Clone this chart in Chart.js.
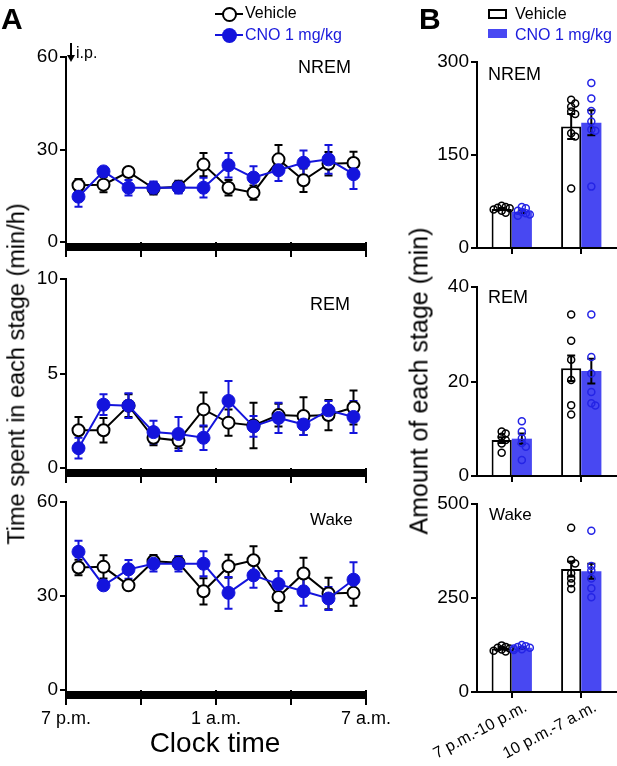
<!DOCTYPE html>
<html>
<head>
<meta charset="utf-8">
<script src="https://cdn.jsdelivr.net/npm/chart.js@4.4.1/dist/chart.umd.min.js"></script>
<style>
body { margin: 0; background: #fff; font-family: "Liberation Sans", Arial, sans-serif; }
#fig { position: relative; width: 617px; height: 766px; overflow: hidden; }
#fig canvas { position: absolute; left: 0; top: 0; }
.t { position: absolute; white-space: nowrap; color: #000; line-height: 1; z-index: 5; }
.blue { color: #1a1adc; }
</style>
</head>
<body>
<div id="fig">
	<canvas id="lineNrem"></canvas>
	<canvas id="lineRem"></canvas>
	<canvas id="lineWake"></canvas>
	<canvas id="barNrem"></canvas>
	<canvas id="barRem"></canvas>
	<canvas id="barWake"></canvas>

	<div class="t" style="left:1px;top:4px;font-size:30px;font-weight:bold;">A</div>
	<div class="t" style="left:419px;top:4px;font-size:30px;font-weight:bold;">B</div>

	<!-- legend A -->
	<div style="position:absolute;left:215px;top:13px;width:28px;height:2px;background:#000;"></div>
	<div style="position:absolute;left:222px;top:7px;width:11px;height:11px;border:2px solid #000;border-radius:50%;background:#fff;"></div>
	<div class="t" style="left:245px;top:5px;font-size:16px;">Vehicle</div>
	<div style="position:absolute;left:215px;top:34px;width:28px;height:2px;background:#1414dc;"></div>
	<div style="position:absolute;left:222px;top:28px;width:15px;height:15px;border-radius:50%;background:#1414dc;"></div>
	<div class="t blue" style="left:245px;top:27px;font-size:16px;">CNO 1 mg/kg</div>

	<!-- legend B -->
	<div style="position:absolute;left:488px;top:9px;width:15px;height:6px;border:2px solid #000;background:#fff;"></div>
	<div class="t" style="left:515px;top:6px;font-size:16px;">Vehicle</div>
	<div style="position:absolute;left:488px;top:29px;width:19px;height:9px;background:#4848f2;"></div>
	<div class="t blue" style="left:515px;top:27px;font-size:16px;">CNO 1 mg/kg</div>

	<!-- injection arrow -->
	<div style="position:absolute;left:70px;top:43px;width:2px;height:13px;background:#000;"></div>
	<div style="position:absolute;left:67px;top:55px;width:0;height:0;border-left:4px solid transparent;border-right:4px solid transparent;border-top:7px solid #000;"></div>
	<div class="t" style="left:76px;top:45px;font-size:16px;">i.p.</div>

	<!-- panel labels -->
	<div class="t" style="left:298px;top:58px;font-size:18px;">NREM</div>
	<div class="t" style="left:310px;top:295px;font-size:18px;">REM</div>
	<div class="t" style="left:310px;top:511px;font-size:17px;">Wake</div>
	<div class="t" style="left:488px;top:65px;font-size:18px;">NREM</div>
	<div class="t" style="left:488px;top:288px;font-size:18px;">REM</div>
	<div class="t" style="left:489px;top:506px;font-size:17px;">Wake</div>

	<!-- axis titles -->
	<div class="t" style="left:215px;top:729px;font-size:28px;transform:translateX(-50%);">Clock time</div>
	<div class="t" style="left:17px;top:374px;font-size:23.5px;transform:translate(-50%,-50%) rotate(-90deg);">Time spent in each stage (min/h)</div>
	<div class="t" style="left:419px;top:381px;font-size:25px;transform:translate(-50%,-50%) rotate(-90deg);">Amount of each stage (min)</div>
</div>

<script>
// hours after 7 p.m. (mid-point of each hourly bin)
var hours = [0.5, 1.5, 2.5, 3.5, 4.5, 5.5, 6.5, 7.5, 8.5, 9.5, 10.5, 11.5];
var clockTicks = { 0: '7 p.m.', 6: '1 a.m.', 12: '7 a.m.' };

var nremVeh    = [18.4, 18.6, 22.7, 17.4, 17.9, 25.1, 17.6, 16.0, 26.8, 20.0, 25.4, 25.6];
var nremVehSem = [2.0, 2.5, 1.0, 2.0, 2.0, 3.8, 2.5, 2.3, 4.7, 3.8, 3.8, 3.7];
var nremCno    = [14.7, 22.9, 17.6, 17.6, 17.7, 17.6, 24.9, 20.9, 23.3, 25.7, 26.8, 22.0];
var nremCnoSem = [3.3, 1.0, 2.5, 2.0, 2.0, 3.2, 4.0, 3.7, 3.5, 4.0, 4.7, 4.8];

var remVeh    = [2.0, 2.0, 3.3, 1.6, 1.45, 3.1, 2.4, 2.25, 2.8, 2.75, 2.8, 3.2];
var remVehSem = [0.7, 0.65, 0.6, 0.4, 0.4, 0.9, 0.7, 1.2, 0.6, 1.0, 0.8, 0.9];
var remCno    = [1.05, 3.35, 3.3, 1.9, 1.8, 1.6, 3.55, 2.2, 2.65, 2.3, 3.05, 2.7];
var remCnoSem = [0.55, 0.55, 0.65, 0.6, 0.9, 0.65, 1.05, 0.55, 0.8, 0.55, 0.5, 0.85];

var wakeVeh    = [39.1, 39.3, 33.4, 41.1, 40.6, 31.5, 39.5, 41.4, 29.7, 37.2, 30.8, 31.0];
var wakeVehSem = [2.5, 3.7, 1.0, 2.0, 2.0, 4.2, 3.7, 4.5, 4.5, 5.0, 5.0, 4.1];
var wakeCno    = [44.1, 33.4, 38.5, 40.3, 40.3, 40.3, 31.0, 36.6, 33.8, 31.5, 29.2, 35.2];
var wakeCnoSem = [3.5, 1.0, 3.0, 2.5, 2.5, 4.0, 5.1, 4.0, 4.2, 4.6, 3.7, 5.6];

// panel B
var periods = ['7 p.m.-10 p.m.', '10 p.m.-7 a.m.'];

var nremBarVeh = [63, 196], nremBarVehSem = [1.5, 20];
var nremBarCno = [58.5, 202], nremBarCnoSem = [2, 20];
var nremDotsVeh = [[68, 66, 65, 64, 62, 60, 57], [239, 233, 228, 220, 216, 185, 180, 96]];
var nremDotsCno = [[66, 64, 60, 58, 56, 54, 52], [266, 241, 221, 204, 191, 189, 99]];

var remBarVeh = [7.6, 22.8], remBarVehSem = [0.6, 2.7];
var remBarCno = [7.9, 22.2], remBarCnoSem = [1.1, 2.6];
var remDotsVeh = [[9.4, 9.0, 8.3, 7.6, 6.9, 4.9], [34.2, 28.6, 24.6, 20.3, 15.0, 13.0]];
var remDotsCno = [[11.6, 9.4, 8.0, 7.0, 6.2, 3.4], [34.2, 25.2, 21.7, 17.8, 15.4, 14.9]];

var wakeBarVeh = [116, 327], wakeBarVehSem = [2, 20];
var wakeBarCno = [118, 321], wakeBarCnoSem = [2, 20];
var wakeDotsVeh = [[124, 120, 118, 116, 113, 110, 108], [437, 351, 342, 316, 302, 289, 274]];
var wakeDotsCno = [[125, 122, 120, 118, 116, 114, 112], [429, 335, 324, 302, 276, 252]];

var BLUE = '#1414dc';
var BAR_BLUE = '#4848f2';
var DOT_BLUE = '#2424e6';
var W = 617, H = 766, YW = 45;

Chart.defaults.font.family = '"Liberation Sans", Arial, sans-serif';
Chart.defaults.color = '#000';

// error bars behind the points of the time courses
var errLine = {
	id: 'errLine',
	beforeDatasetsDraw: function(chart) {
		var ctx = chart.ctx, ys = chart.scales.y;
		chart.data.datasets.forEach(function(ds, i) {
			var meta = chart.getDatasetMeta(i);
			ctx.save();
			ctx.strokeStyle = ds.borderColor;
			ctx.lineWidth = 2;
			meta.data.forEach(function(pt, j) {
				var v = ds.data[j].y, e = ds.sem[j];
				var y1 = ys.getPixelForValue(v + e), y2 = ys.getPixelForValue(v - e);
				ctx.beginPath();
				ctx.moveTo(pt.x, y1); ctx.lineTo(pt.x, y2);
				ctx.moveTo(pt.x - 4, y1); ctx.lineTo(pt.x + 4, y1);
				ctx.moveTo(pt.x - 4, y2); ctx.lineTo(pt.x + 4, y2);
				ctx.stroke();
			});
			ctx.restore();
		});
	}
};

// black light/dark bar along the time axis
var darkBar = {
	id: 'darkBar',
	afterDraw: function(chart) {
		var a = chart.chartArea;
		chart.ctx.fillStyle = '#000';
		chart.ctx.fillRect(a.left, a.bottom + 1, a.right - a.left, 8);
	}
};

// sem bars and individual animals on the bar charts
var barExtras = {
	id: 'barExtras',
	afterDatasetsDraw: function(chart) {
		var ctx = chart.ctx, ys = chart.scales.y;
		chart.data.datasets.forEach(function(ds, i) {
			var meta = chart.getDatasetMeta(i);
			meta.data.forEach(function(bar, j) {
				var x = bar.x;
				var y1 = ys.getPixelForValue(ds.data[j] + ds.sem[j]);
				var y2 = ys.getPixelForValue(ds.data[j] - ds.sem[j]);
				ctx.save();
				ctx.strokeStyle = '#000';
				ctx.lineWidth = 2;
				ctx.beginPath();
				ctx.moveTo(x, y1); ctx.lineTo(x, y2);
				ctx.moveTo(x - 4, y1); ctx.lineTo(x + 4, y1);
				ctx.moveTo(x - 4, y2); ctx.lineTo(x + 4, y2);
				ctx.stroke();
				// tight beeswarm, dots may overlap a little
				var placed = [];
				ctx.strokeStyle = ds.dotColor;
				ctx.lineWidth = 1.5;
				ds.dots[j].forEach(function(v) {
					var y = ys.getPixelForValue(v), off = 0;
					for (var k = 0; k < 5; k++) {
						off = (k % 2 ? 1 : -1) * Math.ceil(k / 2) * 4;
						var hit = placed.some(function(p) {
							return Math.hypot(p[0] - off, p[1] - y) < 4;
						});
						if (!hit) break;
					}
					placed.push([off, y]);
					ctx.beginPath();
					ctx.arc(x + off, y, 3.5, 0, Math.PI * 2);
					ctx.stroke();
				});
				ctx.restore();
			});
		});
	}
};

function pts(vals) {
	return hours.map(function(h, i) { return { x: h, y: vals[i] }; });
}

function yAxis(max, step) {
	return {
		min: 0, max: max,
		border: { display: true, color: '#000', width: 2 },
		grid: { drawOnChartArea: false, drawTicks: true, tickLength: 6, color: '#000', lineWidth: 2 },
		ticks: { stepSize: step, font: { size: 19 }, padding: 2, color: '#000' },
		afterFit: function(s) { s.width = YW; }
	};
}

function setup(id) {
	var c = document.getElementById(id);
	c.width = W; c.height = H;
	c.style.width = W + 'px'; c.style.height = H + 'px';
	return c;
}

function lineChart(id, area, xh, labels, veh, vehSem, cno, cnoSem, yMax, yStep) {
	return new Chart(setup(id), {
		type: 'line',
		data: {
			datasets: [
				{
					label: 'Vehicle', data: pts(veh), sem: vehSem,
					borderColor: '#000', borderWidth: 2,
					pointRadius: 6, pointBorderWidth: 2,
					pointBackgroundColor: '#fff', pointBorderColor: '#000',
					order: 2
				},
				{
					label: 'CNO 1 mg/kg', data: pts(cno), sem: cnoSem,
					borderColor: BLUE, borderWidth: 2,
					pointRadius: 6.5, pointBorderWidth: 1,
					pointBackgroundColor: BLUE, pointBorderColor: BLUE,
					order: 1
				}
			]
		},
		options: {
			responsive: false, animation: false, events: [],
			layout: { padding: { left: area[0] - YW, right: W - area[1], top: area[2], bottom: H - area[3] - xh } },
			plugins: { legend: { display: false }, tooltip: { enabled: false } },
			scales: {
				x: {
					type: 'linear', min: 0, max: 12,
					border: { display: false },
					grid: { drawOnChartArea: false, drawTicks: true, tickLength: 15, color: '#000', lineWidth: 2 },
					ticks: {
						stepSize: 3, display: labels, font: { size: 18 }, padding: 3, maxRotation: 0,
						callback: function(v) { return clockTicks[v] || ''; }
					},
					afterFit: function(s) { s.height = xh; }
				},
				y: yAxis(yMax, yStep)
			}
		},
		plugins: [errLine, darkBar]
	});
}

function barChart(id, area, xh, labels, veh, vehSem, vehDots, cno, cnoSem, cnoDots, yMax, yStep) {
	return new Chart(setup(id), {
		type: 'bar',
		data: {
			labels: periods,
			datasets: [
				{
					label: 'Vehicle', data: veh, sem: vehSem, dots: vehDots, dotColor: '#000',
					backgroundColor: '#fff', borderColor: '#000', borderWidth: 2,
					barPercentage: 1, categoryPercentage: 0.58
				},
				{
					label: 'CNO 1 mg/kg', data: cno, sem: cnoSem, dots: cnoDots, dotColor: DOT_BLUE,
					backgroundColor: BAR_BLUE, borderWidth: 0,
					barPercentage: 1, categoryPercentage: 0.58
				}
			]
		},
		options: {
			responsive: false, animation: false, events: [],
			layout: { padding: { left: area[0] - YW, right: W - area[1], top: area[2], bottom: H - area[3] - xh } },
			plugins: { legend: { display: false }, tooltip: { enabled: false } },
			scales: {
				x: {
					border: { display: true, color: '#000', width: 2 },
					grid: { drawOnChartArea: false, offset: false, drawTicks: true, tickLength: 6, color: '#000', lineWidth: 2 },
					ticks: {
						display: labels, font: { size: 16 }, autoSkip: false,
						minRotation: 28, maxRotation: 28, labelOffset: 14, padding: 0
					},
					afterFit: function(s) { s.height = xh; }
				},
				y: yAxis(yMax, yStep)
			}
		},
		plugins: [barExtras]
	});
}

lineChart('lineNrem', [66, 366, 57, 242], 20, false, nremVeh, nremVehSem, nremCno, nremCnoSem, 60, 30);
lineChart('lineRem', [66, 366, 279, 468], 20, false, remVeh, remVehSem, remCno, remCnoSem, 10, 5);
lineChart('lineWake', [66, 366, 502, 690], 40, true, wakeVeh, wakeVehSem, wakeCno, wakeCnoSem, 60, 30);

barChart('barNrem', [477, 616, 62, 248], 20, false, nremBarVeh, nremBarVehSem, nremDotsVeh, nremBarCno, nremBarCnoSem, nremDotsCno, 300, 150);
barChart('barRem', [477, 616, 287, 476], 20, false, remBarVeh, remBarVehSem, remDotsVeh, remBarCno, remBarCnoSem, remDotsCno, 40, 20);
barChart('barWake', [477, 616, 504, 692], 70, true, wakeBarVeh, wakeBarVehSem, wakeDotsVeh, wakeBarCno, wakeBarCnoSem, wakeDotsCno, 500, 250);
</script>
</body>
</html>
